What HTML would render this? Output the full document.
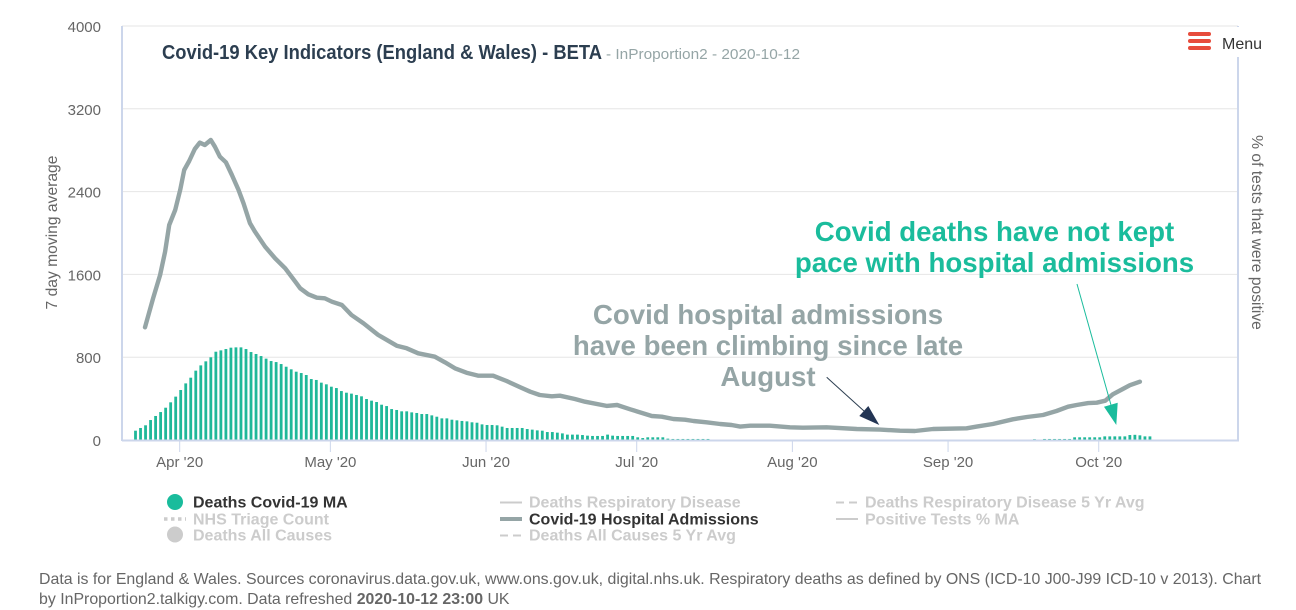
<!DOCTYPE html>
<html lang="en">
<head>
<meta charset="utf-8">
<title>Covid-19 Key Indicators</title>
<style>
html,body{margin:0;padding:0;background:#fff;}
body{width:1296px;height:608px;overflow:hidden;position:relative;font-family:"Liberation Sans",sans-serif;}
svg{position:absolute;left:0;top:0;}
svg text{font-family:"Liberation Sans",sans-serif;}
.foot{position:absolute;left:39px;width:1250px;font-size:15.9px;line-height:20px;color:#666;white-space:nowrap;}
.leg{font-size:16px;font-weight:bold;fill:#ccc;}
.ann{font-weight:bold;text-anchor:middle;font-size:27.65px;}
</style>
</head>
<body>
<svg id="chart" width="1296" height="608" viewBox="0 0 1296 608">
  <g id="grid"></g>
  <g id="yTicks"></g>
  <g id="xTicks"></g>
  <g id="bars"></g>
  <path id="admissions" fill="none" stroke="#95a5a6" stroke-width="4.4" stroke-linejoin="round" stroke-linecap="round"></path>
  <line x1="122" y1="26" x2="122" y2="441" stroke="#ccd6eb" stroke-width="2"></line>
  <line x1="1238" y1="26" x2="1238" y2="441" stroke="#ccd6eb" stroke-width="2"></line>
  <line x1="122" y1="440.5" x2="1239" y2="440.5" stroke="#ccd6eb" stroke-width="2"></line>

  <text transform="translate(57,232.5) rotate(-90)" text-anchor="middle" font-size="15.65" fill="#666">7 day moving average</text>
  <text transform="translate(1252,232.5) rotate(90)" text-anchor="middle" font-size="15.65" fill="#666">% of tests that were positive</text>

  <text x="162" y="59" font-size="20" font-weight="bold" fill="#2c3e50" textLength="440" lengthAdjust="spacingAndGlyphs">Covid-19 Key Indicators (England &amp; Wales) - BETA</text>
  <text x="606" y="59" font-size="15" fill="#95a5a6" textLength="194" lengthAdjust="spacingAndGlyphs">- InProportion2 - 2020-10-12</text>

  <g>
    <rect x="1180" y="27" width="84" height="30" fill="#fff"></rect>
    <rect x="1188" y="32" width="23" height="4" rx="2" fill="#e74c3c"></rect>
    <rect x="1188" y="39" width="23" height="4" rx="2" fill="#e74c3c"></rect>
    <rect x="1188" y="46" width="23" height="4" rx="2" fill="#e74c3c"></rect>
    <text x="1222" y="49" font-size="16" fill="#333">Menu</text>
  </g>

  <g>
    <text class="ann" x="994.5" y="241" fill="#1abc9c">Covid deaths have not kept</text>
    <text class="ann" x="994.5" y="272" fill="#1abc9c">pace with hospital admissions</text>
    <line x1="1077" y1="284" x2="1111" y2="405" stroke="#1abc9c" stroke-width="1"></line>
    <polygon points="1104,406.7 1117.7,402.7 1116.3,425" fill="#1abc9c"></polygon>
  </g>
  <g>
    <text class="ann" x="768" y="324" fill="#95a5a6">Covid hospital admissions</text>
    <text class="ann" x="768" y="355" fill="#95a5a6">have been climbing since late</text>
    <text class="ann" x="768" y="386" fill="#95a5a6">August</text>
    <line x1="826.7" y1="377.3" x2="864" y2="411" stroke="#2c3e50" stroke-width="1"></line>
    <polygon points="868.3,406 859.3,416 879.3,425" fill="#233554"></polygon>
  </g>

  <g>
    <g>
      <circle cx="175" cy="502" r="8" fill="#1abc9c"></circle>
      <text class="leg" x="193" y="507.5" style="fill:#333">Deaths Covid-19 MA</text>
    </g>
    <g>
      <line x1="164" y1="519" x2="186" y2="519" stroke="#ccc" stroke-width="3.5" stroke-dasharray="3.5 3.5"></line>
      <text class="leg" x="193" y="524.5">NHS Triage Count</text>
    </g>
    <g>
      <circle cx="175" cy="534.5" r="8" fill="#ccc"></circle>
      <text class="leg" x="193" y="540.5">Deaths All Causes</text>
    </g>
    <g>
      <line x1="500" y1="502.5" x2="522" y2="502.5" stroke="#ccc" stroke-width="2"></line>
      <text class="leg" x="529" y="507.5">Deaths Respiratory Disease</text>
    </g>
    <g>
      <line x1="500" y1="519" x2="522" y2="519" stroke="#95a5a6" stroke-width="4"></line>
      <text class="leg" x="529" y="524.5" style="fill:#333">Covid-19 Hospital Admissions</text>
    </g>
    <g>
      <line x1="500" y1="535.5" x2="522" y2="535.5" stroke="#ccc" stroke-width="2" stroke-dasharray="8 5"></line>
      <text class="leg" x="529" y="540.5">Deaths All Causes 5 Yr Avg</text>
    </g>
    <g>
      <line x1="836" y1="502.5" x2="858" y2="502.5" stroke="#ccc" stroke-width="2" stroke-dasharray="8 5"></line>
      <text class="leg" x="865" y="507.5">Deaths Respiratory Disease 5 Yr Avg</text>
    </g>
    <g>
      <line x1="836" y1="519" x2="858" y2="519" stroke="#ccc" stroke-width="2"></line>
      <text class="leg" x="865" y="524.5">Positive Tests % MA</text>
    </g>
  </g>
</svg>
<div class="foot" style="top:570px">Data is for England &amp; Wales. Sources coronavirus.data.gov.uk, www.ons.gov.uk, digital.nhs.uk. Respiratory deaths as defined by ONS (ICD-10 J00-J99 ICD-10 v 2013). Chart</div>
<div class="foot" style="top:590px">by InProportion2.talkigy.com. Data refreshed <b>2020-10-12 23:00</b> UK</div>

<script>
const yTickValues = [0, 800, 1600, 2400, 3200, 4000];
const xTickLabels = ["Apr '20", "May '20", "Jun '20", "Jul '20", "Aug '20", "Sep '20", "Oct '20"];
const xTickDays = [0, 30, 61, 91, 122, 153, 183];
const firstBarDay = -8.8;
const deathsCovid = [
  90,116,142,193,232,270,312,364,419,483,
  547,602,670,721,760,799,853,866,879,892,
  895,895,879,850,831,811,786,763,753,734,
  708,683,660,647,628,589,580,554,538,515,
  502,473,457,448,435,422,396,380,367,341,
  328,299,290,277,277,267,261,251,251,238,
  225,209,209,196,190,184,180,171,167,151,
  145,145,142,129,116,116,116,116,106,100,
  93,90,77,77,71,64,52,52,52,48,
  42,39,39,39,52,42,39,39,39,39,
  26,19,26,26,26,26,13,10,10,10,
  10,10,10,10,10,0,0,0,0,0,
  0,0,0,0,0,0,0,0,0,0,
  0,0,0,0,0,0,0,0,0,0,
  0,0,0,0,0,0,0,0,0,0,
  0,0,0,0,0,0,0,0,0,0,
  0,0,0,0,0,0,0,0,0,0,
  0,0,0,0,0,0,0,0,0,8,
  0,10,10,10,10,10,10,26,26,26,
  26,26,26,35,35,35,35,35,48,50,
  45,35,35
];
const admissionDays = [
  -6.9,-5.3,-3.9,-2.9,-2.1,-0.9,0.1,0.9,1.9,3,4,5,6.2,7,8,9.2,10.4,11.7,12.7,14,15,17,19,21,23,24,
  25.6,27.3,28.9,30.3,32.3,34.2,36.6,39.5,41.5,43.2,45.2,47.5,50.8,52.8,54.8,57.1,59.5,62.4,65.1,67.8,
  69.8,71.7,74.1,75.7,78.7,80.7,85,87.1,89.7,94,96,98.3,100.6,102.3,104.9,107.6,109.9,111.6,113.6,117.5,
  121.5,124.1,128.8,134.8,139.4,143.4,146.4,150,156.7,158.7,161.9,165.9,168.7,171.9,174.6,176.9,178.6,
  180.9,182.6,184.3,185.8,187.8,189.2,191.2
];
const admissionValues = [
  1089,1369,1594,1819,2077,2222,2416,2609,2696,2812,2873,2850,2899,2834,2737,2683,2560,2416,2287,2094,2013,1868,1756,1659,1530,1466,
  1408,1375,1369,1336,1304,1208,1128,1015,959,911,886,838,805,751,693,650,621,621,570,509,
  467,435,422,428,396,370,329,338,297,232,225,203,196,184,171,155,145,129,138,138,
  123,119,123,106,100,90,87,106,113,129,155,200,222,242,280,322,338,
  357,360,380,442,493,529,563
];

const NS = "http://www.w3.org/2000/svg";
const plotLeft = 122, plotRight = 1238, plotTop = 26, plotBottom = 440, yMax = 4000;
function yScale(v) { return plotBottom - (v / yMax) * (plotBottom - plotTop); }
function xScale(day) { return 179.7 + 5.022 * day; }
function make(tag, attrs) {
  const el = document.createElementNS(NS, tag);
  for (const k in attrs) el.setAttribute(k, attrs[k]);
  return el;
}

const grid = document.getElementById("grid");
const yTicks = document.getElementById("yTicks");
yTickValues.forEach(function (v) {
  if (v > 0) {
    const gl = make("line", { x1: plotLeft, x2: plotRight, y1: yScale(v), y2: yScale(v), stroke: "#e6e6e6", "stroke-width": 1 });
    
    
    grid.appendChild(gl);
  }
  const t = make("text", { x: 101, y: yScale(v) + 6, "text-anchor": "end", "font-size": 15, fill: "#666" });
  
  
  t.textContent = v;
  yTicks.appendChild(t);
});

const xTicks = document.getElementById("xTicks");
xTickLabels.forEach(function (label, i) {
  const px = xScale(xTickDays[i]);
  const tick = make("line", { x1: px, x2: px, y1: plotBottom, y2: plotBottom + 12, stroke: "#ccd6eb", "stroke-width": 1 });
  
  
  xTicks.appendChild(tick);
  const t = make("text", { x: px, y: 467, "text-anchor": "middle", "font-size": 15, fill: "#666" });
  
  
  t.textContent = label;
  xTicks.appendChild(t);
});

const bars = document.getElementById("bars");
deathsCovid.forEach(function (v, i) {
  const px = xScale(firstBarDay + i);
  const top = yScale(v);
  const r = make("rect", { x: px - 1.4, y: top, width: 2.8, height: plotBottom - top, fill: "#1fb899" });
  
  
  bars.appendChild(r);
});

document.getElementById("admissions").setAttribute("d", admissionValues.map(function (v, i) {
  return (i ? "L" : "M") + xScale(admissionDays[i]).toFixed(1) + " " + yScale(v).toFixed(1);
}).join(" "));
</script>
</body>
</html>
